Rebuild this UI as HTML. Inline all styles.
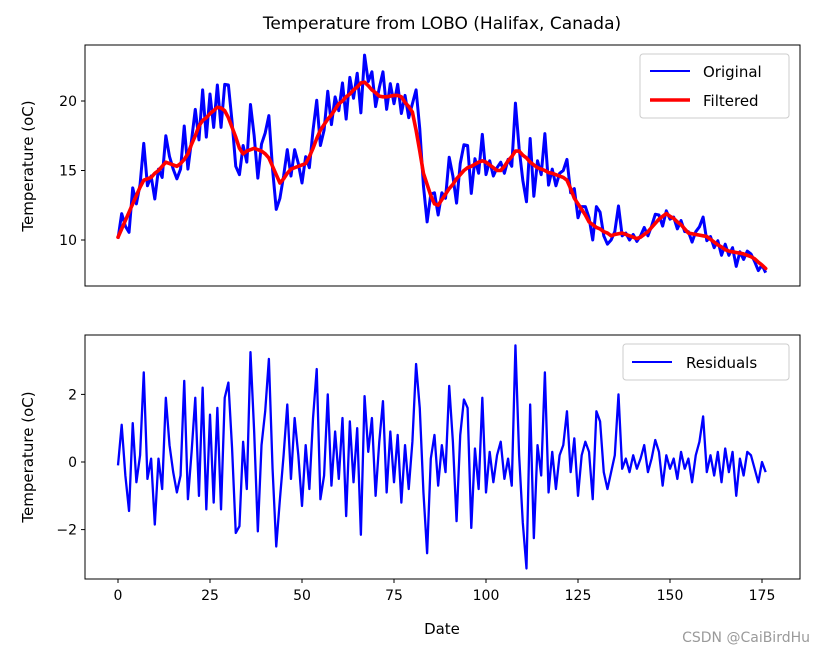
<!DOCTYPE html>
<html><head><meta charset="utf-8"><style>
body{margin:0;background:#fff;width:814px;height:653px;overflow:hidden}
svg{display:block;font-family:"DejaVu Sans","Liberation Sans",sans-serif}
</style></head><body>
<svg id="chart" width="814" height="653" viewBox="0 0 814 653">
<text x="442" y="29" font-size="17" text-anchor="middle">Temperature from LOBO (Halifax, Canada)</text>
<g id="topAxes"></g>
<g id="botAxes"></g>
<text x="442" y="634" font-size="15" text-anchor="middle">Date</text>
<text x="33" y="166" font-size="15" text-anchor="middle" transform="rotate(-90 33 166)">Temperature (oC)</text>
<text x="33" y="457" font-size="15" text-anchor="middle" transform="rotate(-90 33 457)">Temperature (oC)</text>
<text x="810" y="642" font-size="14" fill="#9a9a9a" text-anchor="end">CSDN @CaiBirdHu</text>
</svg>
<script>
const original=[10.1,11.9,11.0,10.55,13.75,12.6,14.0,16.95,13.9,14.6,12.95,15.1,14.5,17.5,16.0,15.1,14.4,15.1,18.2,15.1,17.2,19.4,17.2,20.8,17.4,20.5,18.1,21.15,18.1,21.2,21.15,18.5,15.3,14.7,16.8,15.6,19.75,17.5,14.45,16.9,17.7,18.95,15.1,12.2,13.0,14.6,16.5,14.6,16.5,15.5,14.1,16.0,15.2,17.9,20.05,16.8,17.9,20.7,18.3,20.3,19.3,21.3,18.7,21.7,20.2,22.0,19.15,23.3,21.4,22.1,19.6,20.95,22.1,19.4,21.25,19.8,21.2,19.1,20.4,18.8,19.8,20.8,18.0,13.9,11.3,13.3,13.4,11.8,13.4,13.0,15.95,14.6,12.65,15.5,16.85,16.8,13.35,15.85,14.8,17.6,14.7,15.7,14.6,15.2,15.6,14.8,15.8,15.3,19.85,16.6,14.3,12.75,17.3,13.15,15.7,14.7,17.65,13.95,15.1,13.9,14.8,15.0,15.8,13.4,13.7,11.6,12.4,12.4,11.6,10.0,12.4,12.0,10.3,9.7,10.0,10.6,12.45,10.3,10.5,10.0,10.4,9.9,10.3,10.9,10.3,11.0,11.85,11.8,11.0,12.1,11.5,11.65,10.8,11.4,10.6,10.6,9.85,10.6,10.95,11.65,9.95,10.25,9.45,9.95,8.9,9.7,8.9,9.45,8.1,9.15,8.6,9.2,9.0,8.45,7.8,8.2,7.65];
const filtered=[10.2,10.8,11.4,12.0,12.6,13.2,13.8,14.3,14.4,14.5,14.8,15.0,15.3,15.6,15.5,15.4,15.3,15.5,15.8,16.2,16.9,17.5,18.2,18.6,18.8,19.1,19.3,19.55,19.5,19.3,18.8,18.1,17.4,16.6,16.2,16.4,16.5,16.6,16.5,16.4,16.2,15.9,15.3,14.7,14.1,14.4,14.8,15.1,15.2,15.3,15.4,15.5,16.0,16.6,17.3,17.9,18.3,18.7,19.0,19.4,19.8,20.0,20.3,20.5,20.8,21.0,21.3,21.35,21.1,20.8,20.6,20.35,20.3,20.3,20.35,20.4,20.4,20.3,19.9,19.6,19.2,17.9,16.4,14.8,14.0,13.2,12.6,12.5,12.9,13.3,13.7,14.0,14.4,14.7,15.0,15.2,15.3,15.45,15.6,15.7,15.6,15.4,15.2,15.0,15.0,15.3,15.7,16.0,16.4,16.4,16.1,15.9,15.6,15.4,15.2,15.1,15.0,14.85,14.8,14.7,14.6,14.5,14.3,13.7,13.0,12.6,12.2,11.8,11.3,11.1,10.9,10.8,10.6,10.5,10.3,10.4,10.45,10.5,10.4,10.3,10.2,10.1,10.2,10.4,10.6,10.9,11.2,11.5,11.7,11.9,11.7,11.55,11.3,11.1,10.8,10.5,10.45,10.4,10.35,10.3,10.25,10.05,9.85,9.65,9.5,9.3,9.2,9.15,9.1,9.05,9.0,8.9,8.8,8.65,8.4,8.2,7.95];
const residuals=[-0.1,1.1,-0.4,-1.45,1.15,-0.6,0.2,2.65,-0.5,0.1,-1.85,0.1,-0.8,1.9,0.5,-0.3,-0.9,-0.4,2.4,-1.1,0.3,1.9,-1.0,2.2,-1.4,1.4,-1.2,1.6,-1.4,1.9,2.35,0.4,-2.1,-1.9,0.6,-0.8,3.25,0.9,-2.05,0.5,1.5,3.05,-0.2,-2.5,-1.1,0.2,1.7,-0.5,1.3,0.2,-1.3,0.5,-0.8,1.3,2.75,-1.1,-0.4,2.0,-0.7,0.9,-0.5,1.3,-1.6,1.2,-0.6,1.0,-2.15,1.95,0.3,1.3,-1.0,0.6,1.8,-0.9,0.9,-0.6,0.8,-1.2,0.5,-0.8,0.6,2.9,1.6,-0.9,-2.7,0.1,0.8,-0.7,0.5,-0.3,2.25,0.6,-1.75,0.8,1.85,1.6,-1.95,0.4,-0.8,1.9,-0.9,0.3,-0.6,0.2,0.6,-0.5,0.1,-0.7,3.45,0.2,-1.8,-3.15,1.7,-2.25,0.5,-0.4,2.65,-0.9,0.3,-0.8,0.2,0.5,1.5,-0.3,0.7,-1.0,0.2,0.6,0.3,-1.1,1.5,1.2,-0.3,-0.8,-0.3,0.2,2.0,-0.2,0.1,-0.3,0.2,-0.2,0.1,0.5,-0.3,0.1,0.65,0.3,-0.7,0.2,-0.2,0.1,-0.5,0.3,-0.2,0.1,-0.6,0.2,0.6,1.35,-0.3,0.2,-0.4,0.3,-0.6,0.4,-0.3,0.3,-1.0,0.1,-0.4,0.3,0.2,-0.2,-0.6,0.0,-0.3];
const xTicks=[0,25,50,75,100,125,150,175];
const topYTicks=[10,15,20];
const botYTicks=[-2,0,2];

const NS='http://www.w3.org/2000/svg';
const L=85,R=800;
const X=t=>118+t*3.68;
const Ytop=v=>240-(v-10)*13.9;
const Ybot=v=>462-v*33.8;
function mk(tag,attrs,parent){const e=document.createElementNS(NS,tag);for(const k in attrs)e.setAttribute(k,attrs[k]);parent.appendChild(e);return e;}
function pathOf(arr,Y){return arr.map((v,i)=>(i?'L':'M')+X(i).toFixed(2)+' '+Y(v).toFixed(2)).join(' ');}

const topG=document.getElementById('topAxes'), botG=document.getElementById('botAxes');
let p=mk('path',{d:pathOf(original,Ytop),fill:'none',stroke:'#0000ff','stroke-width':3,'stroke-linejoin':'round'},topG);


p=mk('path',{d:pathOf(filtered,Ytop),fill:'none',stroke:'#ff0000','stroke-width':3.6,'stroke-linejoin':'round','stroke-linecap':'round'},topG);


p=mk('rect',{x:L,y:45,width:R-L,height:241,fill:'none',stroke:'#000','stroke-width':1},topG);


topYTicks.forEach(v=>{
  const y=Ytop(v);
  const t=mk('line',{x1:L-4,x2:L,y1:y,y2:y,stroke:'#000'},topG);
  
  
  const tx=mk('text',{x:L-8,y:y+5,'font-size':14,'text-anchor':'end'},topG);
  tx.textContent=v;
  
  
});
let g=mk('g',{},topG);


mk('rect',{x:640,y:54,width:149,height:64,rx:3,fill:'#fff',stroke:'#ccc'},g);
mk('line',{x1:650,x2:690,y1:71,y2:71,stroke:'#0000ff','stroke-width':2},g);
let lt=mk('text',{x:703,y:77,'font-size':15},g);lt.textContent='Original';


mk('line',{x1:650,x2:690,y1:100,y2:100,stroke:'#ff0000','stroke-width':3.5},g);
lt=mk('text',{x:703,y:106,'font-size':15},g);lt.textContent='Filtered';



p=mk('path',{d:pathOf(residuals,Ybot),fill:'none',stroke:'#0000ff','stroke-width':2.3,'stroke-linejoin':'round'},botG);


p=mk('rect',{x:L,y:335,width:R-L,height:244,fill:'none',stroke:'#000','stroke-width':1},botG);


botYTicks.forEach(v=>{
  const y=Ybot(v);
  const t=mk('line',{x1:L-4,x2:L,y1:y,y2:y,stroke:'#000'},botG);
  
  
  const tx=mk('text',{x:L-8,y:y+5,'font-size':14,'text-anchor':'end'},botG);
  tx.textContent=v<0?'\u2212'+Math.abs(v):v;
  
  
});
xTicks.forEach(v=>{
  const x=X(v);
  const t=mk('line',{x1:x,x2:x,y1:579,y2:583,stroke:'#000'},botG);
  
  
  const tx=mk('text',{x:x,y:600,'font-size':14,'text-anchor':'middle'},botG);
  tx.textContent=v;
  
  
});
g=mk('g',{},botG);


mk('rect',{x:623,y:344,width:166,height:36,rx:3,fill:'#fff',stroke:'#ccc'},g);
mk('line',{x1:632,x2:672,y1:362,y2:362,stroke:'#0000ff','stroke-width':2},g);
lt=mk('text',{x:686,y:368,'font-size':15},g);lt.textContent='Residuals';


</script>
</body></html>
